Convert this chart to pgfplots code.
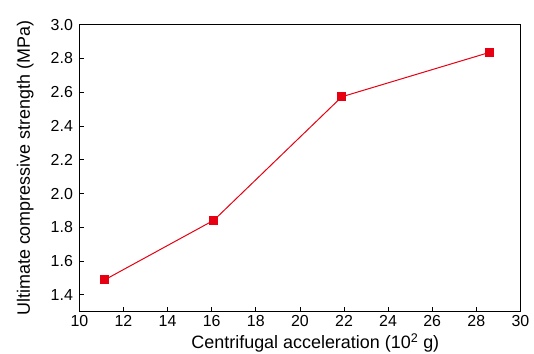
\documentclass[border=0pt]{standalone}
\usepackage{pgfplots}
\pgfplotsset{compat=1.18}
\usepackage{fontspec}
\setmainfont{Liberation Sans}
\definecolor{myred}{RGB}{230,0,18}
\begin{document}
\begin{tikzpicture}[x=1bp,y=1bp]
\useasboundingbox (-79.4,-42) rectangle (454.6,311.7);
\begin{axis}[
  at={(0,0)}, anchor=south west,
  scale only axis,
  width=441bp, height=287bp,
  xmin=10, xmax=30, ymin=1.3, ymax=3.0,
  xtick={10,12,...,30},
  ytick={1.4,1.6,...,3.0},
  yticklabel style={/pgf/number format/fixed,/pgf/number format/fixed zerofill,/pgf/number format/precision=1, xshift=-3bp},
  xticklabel style={yshift=0bp},
  /pgf/number format/assume math mode=true,
  tick align=inside,
  xtick pos=bottom, ytick pos=left,
  major tick length=5bp,
  tick style={black, line width=0.8pt},
  axis line style={black, line width=0.8pt},
  ticklabel style={font=\fontsize{16}{18}\selectfont},
  label style={font=\fontsize{18}{20}\selectfont},
  xlabel={Centrifugal acceleration (10\textsuperscript{2} g)},
  ylabel={Ultimate compressive strength (MPa)},
  xlabel style={at={(axis description cs:0.535,-0.108)}, anchor=center},
  ylabel style={at={(axis description cs:-0.123,0.5)}, anchor=center},
]
\addplot[myred, line width=1pt, mark=square*, mark size=4bp, mark options={solid, fill=myred}] coordinates {
  (11.15,1.489) (16.1,1.842) (21.9,2.573) (28.6,2.836)
};
\end{axis}
\end{tikzpicture}
\end{document}
